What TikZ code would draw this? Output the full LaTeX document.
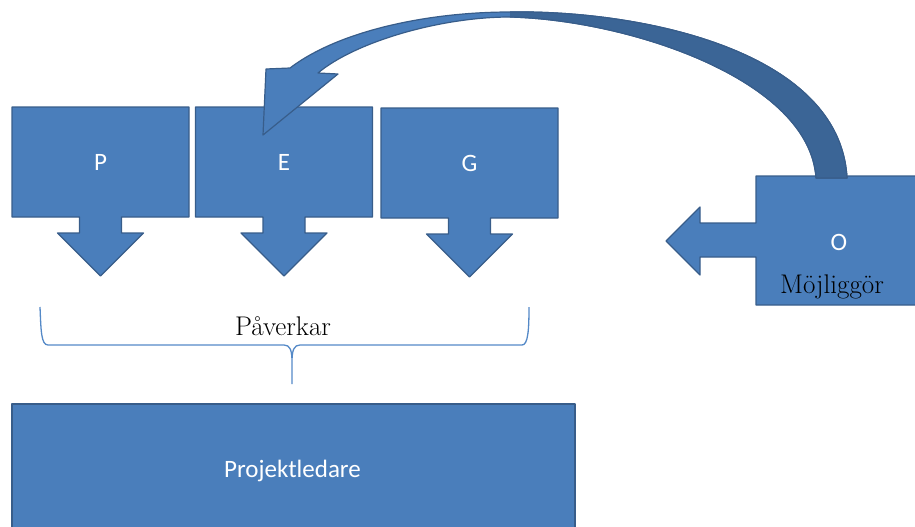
\documentclass[tikz,border=0pt]{standalone}
\usepackage{fontspec}
\newfontfamily\calibri{Carlito}
\definecolor{boxblue}{RGB}{74,126,187}
\definecolor{edgeblue}{RGB}{56,93,138}
\definecolor{bandblue}{RGB}{59,101,150}
\definecolor{braceblue}{RGB}{84,137,199}
\begin{document}
\begin{tikzpicture}[x=1pt,y=-1pt,
callout/.style={fill=boxblue,draw=edgeblue,line width=1.2pt,line join=round},
lbl/.style={text=white,font=\calibri\fontsize{25}{30}\selectfont,inner sep=0pt,anchor=base},
word/.style={text=black,font=\fontsize{27}{32}\selectfont,inner sep=0pt,anchor=base}]
\useasboundingbox(0,0)rectangle(915,527);
\clip(0,0)rectangle(915,527);
% P, E, G with arrows down
\foreach \l/\n/\c/\yy in{P/p/100.5/107,E/e/284/107,G/g/469.5/108}{
\draw[callout](\c-88.5,\yy)--(\c+88.5,\yy)--(\c+88.5,\yy+110)--(\c+21,\yy+110)--(\c+21,\yy+126)
--(\c+43,\yy+126)--(\c,\yy+169)--(\c-43,\yy+126)--(\c-21,\yy+126)--(\c-21,\yy+110)--(\c-88.5,\yy+110)--cycle;
\node[lbl](\n)at(\c,\yy+63){\l};
}
% O with arrow left
\draw[callout](930,176)--(756,176)--(756,223)--(700,223)--(700,207)--(666,241)--(700,275)--(700,257)
--(756,257)--(756,305)--(930,305)--cycle;
\node[lbl](o)at(839,250){O};
\node[word](mojl)at(832,293){Möjliggör};
% curved arrow from O back to E
\draw[callout](847,178)..controls(840,50)and(640,10)..(510,12)..controls(430,12)and(340,30)..(290,68)
--(266,69)--(263,135)--(338,74)--(318,73)..controls(355,42)and(440,17)..(510,17)
..controls(630,20)and(810,80)..(816,178)--cycle;
\fill[bandblue](847,178)..controls(840,50)and(640,10)..(510,12)--(510,17)
..controls(630,20)and(810,80)..(816,178)--cycle;
\draw[edgeblue,line width=1.2pt,line join=round](510,12)..controls(640,10)and(840,50)..(847,178)
--(816,178)..controls(810,80)and(630,20)..(510,17);
% brace
\draw[braceblue,line width=1.3pt](40,307)..controls(41,330)and(41,345)..(48,345)--(284,345)
..controls(290,345)and(292,350)..(292,362)--(292,384)
(292,362)..controls(292,350)and(294,345)..(300,345)--(522,345)..controls(528,345)and(529,330)..(529,307);
\node[word](pav)at(283,335){Påverkar};
\draw[callout](12,404)rectangle(575,540);
\node[lbl](proj)at(292.5,477){Projektledare};
\end{tikzpicture}
\end{document}
